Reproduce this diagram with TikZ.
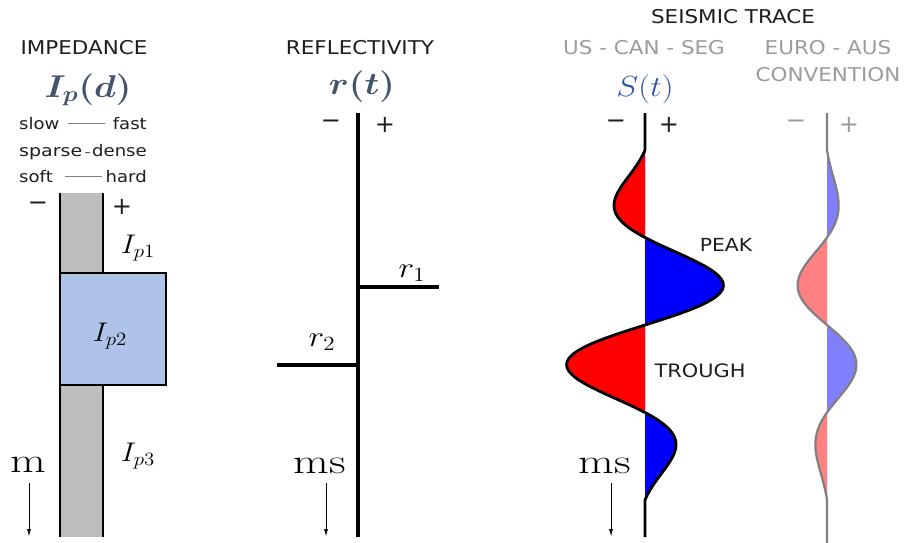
\documentclass[tikz,border=0pt]{standalone}
\usepackage{fontspec}
\usepackage{bm}
\usetikzlibrary{arrows.meta,calc}
\newfontfamily\dejavu{DejaVu Sans}
\definecolor{ipblue}{RGB}{68,84,106}
\definecolor{sblue}{RGB}{47,85,165}
\definecolor{boxblue}{RGB}{175,195,232}
\definecolor{colgray}{RGB}{190,190,190}
\definecolor{ltgray}{RGB}{155,155,155}
\definecolor{ltred}{RGB}{255,128,128}
\definecolor{ltblue}{RGB}{128,128,255}
\definecolor{txt}{RGB}{30,30,30}
\begin{document}
\begin{tikzpicture}[x=1pt,y=-1pt,
  hdr/.style={font={\dejavu\fontsize{19}{22}\selectfont}, text=txt, xscale=1.13, inner sep=0pt},
  small/.style={font={\dejavu\fontsize{16}{18}\selectfont}, text=txt, xscale=1.13, inner sep=0pt},
  sign/.style={font={\dejavu\fontsize{24}{26}\selectfont}, text=txt, inner sep=0pt},
  bigmath/.style={font={\fontsize{20.74}{24}\selectfont}, text=ipblue, xscale=1.72, yscale=1.52, inner sep=0pt},
  lab/.style={font={\fontsize{20.74}{24}\selectfont}, xscale=1.45, yscale=1.3, inner sep=0pt},
  rlab/.style={font={\fontsize{20.74}{24}\selectfont}, xscale=1.6, yscale=1.4, inner sep=0pt},
  unit/.style={font={\fontsize{35}{38}\selectfont}, xscale=1.32, inner sep=0pt},
  graydash/.style={gray, line width=1pt},
  down/.style={thin, -{Latex[length=7pt,width=4pt]}},
  declare function={wav(\u)=-88*exp(0-(\u)*(\u)/1.5)*sin(205.71*(\u));}
]
\useasboundingbox (0,0) rectangle (908,543);

% ---------------- IMPEDANCE ----------------
\node[hdr] (imph) at (84,48) {IMPEDANCE};
\node[bigmath, anchor=base] (ipd) at (88,97) {$\bm{I_p(d)}$};
\node[small, anchor=base west] (slow) at (19,129) {slow};
\node[small, anchor=base east] (fast) at (147,129) {fast};
\node[small, xscale=1.05, anchor=base west] (sparse) at (19,156) {sparse};
\node[small, anchor=base east] (dense) at (147,156) {dense};
\node[font={\dejavu\fontsize{12}{14}\selectfont}, text=txt, inner sep=0pt, anchor=base] (dash) at (87.5,156) {–};
\node[small, anchor=base west] (soft) at (19,182) {soft};
\node[small, anchor=base east] (hard) at (147,182) {hard};
\draw[graydash] ($(slow.east)+(8,0)$) -- ($(fast.west)+(-8,0)$);
\draw[graydash] ($(soft.east)+(12,0)$) -- ($(hard.west)+(-3,0)$);

\fill[colgray] (60,193) rectangle (103,537);
\draw[line width=2.6pt] (60,193) -- (60,537);
\draw[line width=2.6pt] (103,193) -- (103,537);
\draw[fill=boxblue, line width=1.6pt] (60,273) rectangle (166,385);
\node[sign] (im) at (38,206) {−};
\node[sign] (ip) at (122,207) {+};
\node[lab] (ip1) at (138,248) {$I_{p1}$};
\node[lab] (ip2) at (110,336) {$I_{p2}$};
\node[lab] (ip3) at (138,456) {$I_{p3}$};
\node[unit, anchor=base] (m) at (28,472) {m};
\coordinate (ma) at (29,483);
\coordinate (mb) at (29,536);
\draw[down] (ma) -- (mb);

% ---------------- REFLECTIVITY ----------------
\node[hdr] (refh) at (360,48) {REFLECTIVITY};
\node[bigmath, anchor=base] (rt) at (362,95) {$\bm{r(t)}$};
\node[sign] (rm) at (331,124) {−};
\node[sign] (rp) at (385,125) {+};
\coordinate (rtop) at (358,113);
\coordinate (rbot) at (358,537);
\coordinate (r1a) at (358,287);
\coordinate (r1b) at (439,287);
\coordinate (r2a) at (277,365);
\coordinate (r2b) at (358,365);
\draw[line width=3.2pt] (rtop) -- (rbot);
\draw[line width=3.2pt] (r1a) -- (r1b);
\draw[line width=3.2pt] (r2a) -- (r2b);
\node[rlab] (r1) at (412,273) {$r_1$};
\node[rlab] (r2) at (322,342) {$r_2$};
\node[unit, anchor=base] (rms) at (320,473) {ms};
\coordinate (rsa) at (326,483);
\coordinate (rsb) at (326,536);
\draw[down] (rsa) -- (rsb);

% ---------------- SEISMIC TRACE ----------------
\node[hdr] (seish) at (733,17) {SEISMIC TRACE};
\node[hdr, text=ltgray] (us) at (644,48) {US - CAN - SEG};
\node[hdr, text=ltgray] (euro) at (828,48) {EURO - AUS};
\node[hdr, text=ltgray] (conv) at (828,75) {CONVENTION};
\node[font={\fontsize{20.74}{24}\selectfont}, text=sblue, xscale=1.6, yscale=1.4, inner sep=0pt, anchor=base] (st) at (645,96) {$S(t)$};
\node[sign] (sm) at (616,124) {−};
\node[sign] (sp) at (669,125) {+};
\node[sign, text=ltgray] (em) at (796,124) {−};
\node[sign, text=ltgray] (ep) at (849,125) {+};

% US trace
\begin{scope}
  \clip (0,0) rectangle (645,543);
  \fill[red] (645,150) -- plot[domain=-1.75:1.75, samples=140, smooth] ({645+wav(\x)},{325+100*\x}) -- (645,500) -- cycle;
\end{scope}
\begin{scope}
  \clip (645,0) rectangle (908,543);
  \fill[blue] (645,150) -- plot[domain=-1.75:1.75, samples=140, smooth] ({645+wav(\x)},{325+100*\x}) -- (645,500) -- cycle;
\end{scope}
\coordinate (stop) at (645,113);
\coordinate (sbot) at (645,537);
\draw[line width=2.8pt, line join=round] (stop) -- (645,150) -- plot[domain=-1.75:1.75, samples=140, smooth] ({645+wav(\x)},{325+100*\x}) -- (645,500) -- (sbot);

% EURO trace
\begin{scope}
  \clip (0,0) rectangle (827,543);
  \fill[ltred] (827,150) -- plot[domain=-1.75:1.75, samples=140, smooth] ({827-0.375*wav(\x)},{325+100*\x}) -- (827,500) -- cycle;
\end{scope}
\begin{scope}
  \clip (827,0) rectangle (908,543);
  \fill[ltblue] (827,150) -- plot[domain=-1.75:1.75, samples=140, smooth] ({827-0.375*wav(\x)},{325+100*\x}) -- (827,500) -- cycle;
\end{scope}
\coordinate (etop) at (827,113);
\coordinate (ebot) at (827,543);
\draw[gray, line width=2.2pt, line join=round] (etop) -- (827,150) -- plot[domain=-1.75:1.75, samples=140, smooth] ({827-0.375*wav(\x)},{325+100*\x}) -- (827,500) -- (ebot);

\node[font={\dejavu\fontsize{18}{20}\selectfont}, text=txt, xscale=1.13, inner sep=0pt] (peak) at (726,245) {PEAK};
\node[font={\dejavu\fontsize{18.5}{20}\selectfont}, text=txt, xscale=1.13, inner sep=0pt] (trough) at (700,371) {TROUGH};
\node[unit, anchor=base] (sms) at (605,473) {ms};
\coordinate (ssa) at (611,483);
\coordinate (ssb) at (611,536);
\draw[down] (ssa) -- (ssb);
\end{tikzpicture}
\end{document}
